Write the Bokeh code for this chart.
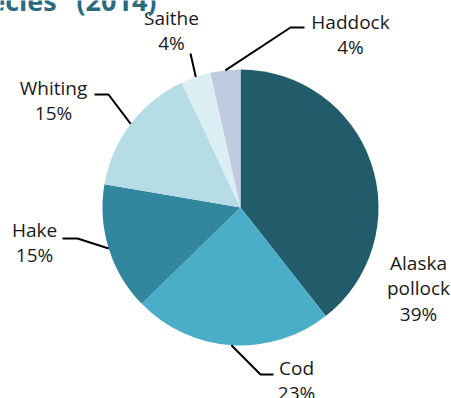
import numpy as np
from bokeh.plotting import figure
from bokeh.models import Range1d, ColumnDataSource
from bokeh.core.properties import value
from bokeh.embed import file_html
from bokeh.resources import INLINE

# ---- data ----
species = ["Alaska pollock", "Cod", "Hake", "Whiting", "Saithe", "Haddock"]
shares = [39.4, 23.3, 15.0, 15.3, 3.5, 3.5]
labels = ["Alaska\npollock\n39%", "Cod\n23%", "Hake\n15%", "Whiting\n15%", "Saithe\n4%", "Haddock\n4%"]
colors = ["#225b6a", "#4aaec8", "#32869e", "#b6dce6", "#daeef3", "#c0cbe0"]
title_text = 'Species"  (2014)'

W, H = 451, 398
def Y(py):
    return H - py

p = figure(width=W, height=H, output_backend="svg", toolbar_location=None,
           x_range=Range1d(0, W), y_range=Range1d(0, H), min_border=0)
p.axis.visible = False
p.grid.visible = False
p.outline_line_color = None
p.background_fill_color = "white"

cx, cy, r = 240, 207, 138
vals = np.array(shares, dtype=float)
frac = vals / vals.sum()
cum = np.concatenate([[0], np.cumsum(frac)])
# clockwise from 12 o'clock
start = np.pi / 2 - cum[:-1] * 2 * np.pi
end = np.pi / 2 - cum[1:] * 2 * np.pi
src = ColumnDataSource(dict(start=start, end=end, color=colors))
p.wedge(x=cx, y=Y(cy), radius=r, start_angle="start", end_angle="end",
        direction="clock", fill_color="color", line_color=None, source=src)

# leader lines (pie edge at slice mid-angle -> elbow -> end)
mid = (cum[:-1] + cum[1:]) / 2 * 2 * np.pi
edge_x = cx + r * np.sin(mid)
edge_y = cy - r * np.cos(mid)
elbows = {1: [(260, 374), (273, 374)],
          2: [(77, 238), (62, 238)],
          3: [(108, 94), (94, 94)],
          4: [(190, 53)],
          5: [(290, 27), (304, 27)]}
xs, ys = [], []
for i, pts in elbows.items():
    px = [edge_x[i]] + [q[0] for q in pts]
    py = [edge_y[i]] + [q[1] for q in pts]
    xs.append(px)
    ys.append([Y(v) for v in py])
p.multi_line(xs=xs, ys=ys, line_color="black", line_width=2)

# labels
label_pos = [(418, 288), (296, 380), (34, 242), (53, 100), (171, 30), (350, 34)]
p.text(x=[q[0] for q in label_pos], y=[Y(q[1]) for q in label_pos], text=labels,
       text_align="center", text_baseline="middle", text_font=value("Open Sans"),
       text_font_size="19px", text_color="#1a1a1a", text_line_height=0.97)

# title (clipped at top/left as in the reference)
p.text(x=[163], y=[Y(0)], text=[title_text], text_align="right",
       text_baseline="alphabetic", text_font=value("Open Sans"),
       text_font_style="bold", text_font_size="27px", text_color="#2b6b80")

open("out.html", "w").write(file_html(p, INLINE))
